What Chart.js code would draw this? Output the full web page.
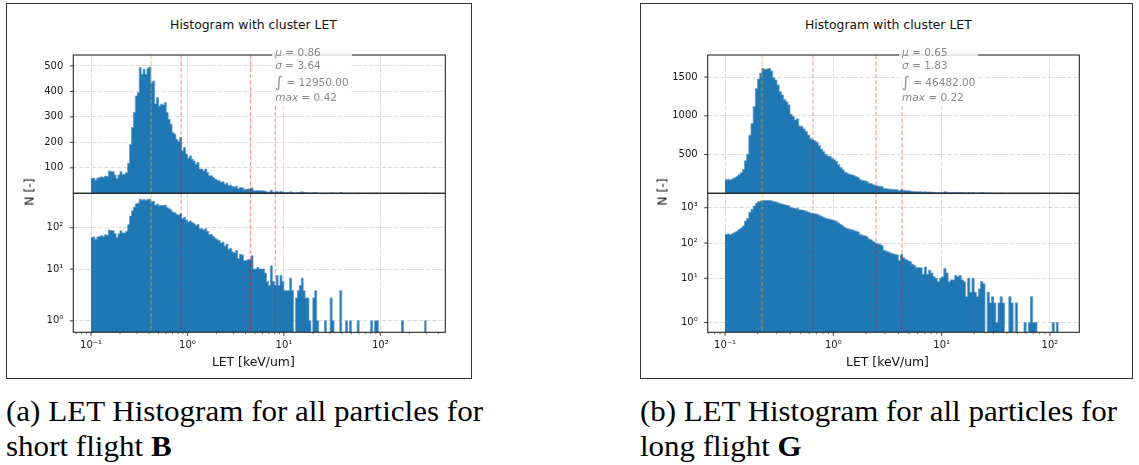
<!DOCTYPE html>
<html>
<head>
<meta charset="utf-8">
<script src="https://cdn.jsdelivr.net/npm/chart.js@4.4.1/dist/chart.umd.min.js"></script>
<style>
html,body{margin:0;padding:0;background:#fff;}
#root{position:relative;width:1139px;height:465px;overflow:hidden;background:#fff;font-family:"DejaVu Sans",sans-serif;}
.frame{position:absolute;border:1.5px solid #333;box-sizing:border-box;}
canvas{position:absolute;}
.title,.xlabel{position:absolute;font-size:12.4px;line-height:15px;color:#111;white-space:nowrap;transform:translateX(-50%);}
.ylabel{position:absolute;font-size:12.4px;line-height:15px;color:#111;white-space:nowrap;transform:translate(-50%,-50%) rotate(-90deg);}
.stats{position:absolute;background:rgba(255,255,255,0.8);color:#8a8a8a;font-size:10.5px;padding:0 3px 2px 3.3px;white-space:nowrap;z-index:5;}
.stats div{height:13px;line-height:13px;}
.stats div.int{height:19px;line-height:19px;}
.stats .big{font-size:15px;position:relative;top:1px;}
.caption{position:absolute;font-family:"Liberation Serif","DejaVu Serif",serif;font-size:29px;line-height:35px;color:#000;white-space:nowrap;transform-origin:0 0;}
</style>
</head>
<body>
<div id="root"></div>
<script>
// ---------------- data ----------------
const binLogStart = -1;     // first bin edge = 10^-1 keV/um
const binLogWidth = 0.02;   // bin width in decades
// counts per bin, short flight B
const countsShortFlightB = [
 58,60,52,60,62,65,62,68,66,88,
 86,85,72,58,72,85,75,75,82,118,
 192,258,317,382,395,493,467,487,467,490,
 496,435,441,352,376,343,350,347,356,317,
 291,271,239,232,212,203,219,167,180,154,
 138,147,134,127,114,121,95,95,88,95,
 82,69,69,62,56,52,49,43,45,36,
 40,30,32,26,25,28,18,23,22,16,
 16,17,17,21,10,10,11,10,10,10,
 8,5,4,12,5,4,7,4,7,5,
 3,3,3,6,3,0,2,3,4,6,
 3,2,2,1,0,2,3,1,0,0,
 0,1,0,0,2,1,0,0,0,3,
 0,0,1,0,1,0,0,0,1,0,
 0,0,0,0,0,1,0,1,1,0,
 0,0,0,0,0,0,0,0,0,0,
 0,1,0,0,0,0,0,0,0,0,
 0,0,0,1
];
// counts per bin, long flight G
const countsLongFlightG = [
 175,180,172,185,200,215,240,265,305,420,
 505,750,900,1120,1350,1475,1550,1612,1600,1605,
 1612,1577,1491,1461,1397,1311,1268,1212,1182,1140,
 1020,990,947,960,870,861,831,797,753,711,
 690,677,660,617,570,540,505,483,475,453,
 432,410,368,333,303,273,260,247,239,230,
 217,204,174,165,161,153,131,123,110,101,
 95,92,85,62,58,56,52,50,47,46,
 32,47,38,34,32,30,25,23,20,20,
 20,13,21,13,17,14,11,10,8,10,
 11,19,14,8,9,9,12,11,12,9,
 8,3,10,4,10,4,3,5,8,7,
 0,4,2,3,2,1,2,3,2,0,
 0,3,2,0,2,0,0,0,1,0,
 1,3,1,1,0,0,0,0,0,0,
 0,1,0,1
];
// stats: mu, sigma, integral, max
const statsShortFlightB = [0.86, 3.64, 12950.00, 0.42];
const statsLongFlightG  = [0.65, 1.83, 46482.00, 0.22];

const xMajorTicks  = [0.1, 1, 10, 100];
const xMajorLabels = ['10\u207B\u00B9', '10\u2070', '10\u00B9', '10\u00B2'];
const yLinTicksB = [100, 200, 300, 400, 500];
const yLinTicksG = [500, 1000, 1500];
const yLogTicksB = [1, 10, 100];
const yLogTicksG = [1, 10, 100, 1000];
const yLogLabels = ['10\u2070', '10\u00B9', '10\u00B2', '10\u00B3'];

const titleText  = 'Histogram with cluster LET';
const xLabelText = 'LET [keV/um]';
const yLabelText = 'N [-]';
const captionB = ['(a) LET Histogram for all particles for', 'short flight ', 'B'];
const captionG = ['(b) LET Histogram for all particles for', 'long flight ', 'G'];

// ---------------- symlog scale ----------------
const SYMLOG_LINTHRESH = 2;
const LinearScale = Chart.registry.getScale('linear');
class SymlogScale extends LinearScale {
  tf(v){ const t=SYMLOG_LINTHRESH, a=1/(1-1/10), x=Math.abs(v); return x<=t ? v*a : Math.sign(v)*t*(a+Math.log10(x/t)); }
  itf(u){ const t=SYMLOG_LINTHRESH, a=1/(1-1/10), x=Math.abs(u); return x<=t*a ? u/a : Math.sign(u)*t*Math.pow(10, x/t-a); }
  getPixelForValue(value){ const u0=this.tf(this.min), u1=this.tf(this.max); return this.getPixelForDecimal((this.tf(value)-u0)/(u1-u0)); }
  getValueForPixel(pixel){ const u0=this.tf(this.min), u1=this.tf(this.max); return this.itf(u0+this.getDecimalForPixel(pixel)*(u1-u0)); }
}
SymlogScale.id = 'symlog';
SymlogScale.defaults = {};
Chart.register(SymlogScale);

// ---------------- helpers ----------------
const GRID = 'rgba(176,176,176,0.55)';
const TICKFONT = {family:'DejaVu Sans', size:10};
const TICKCOLOR = '#1a1a1a';
const HISTFILL = '#1f77b4';
const HISTEDGE = '#5e9bcc';
const RED = 'rgba(255,0,0,0.42)';
const ORANGE = 'rgba(255,165,0,0.55)';

function histPoints(counts){
  const pts = counts.map((c,i)=>({x: Math.pow(10, binLogStart + i*binLogWidth), y: c}));
  pts.push({x: Math.pow(10, binLogStart + counts.length*binLogWidth), y: counts[counts.length-1]});
  return pts;
}
function xTickList(min, max){
  const out = [];
  for (let e=-3; e<=3; e++) for (let m=1; m<=9; m++){
    const v = Number((m*Math.pow(10,e)).toPrecision(6));
    if (v>=min && v<=max) out.push(v);
  }
  return out;
}
function decor(vlines, bottomAxis){
  return {
    id:'decor',
    afterDatasetsDraw(chart){
      const {ctx, chartArea:a} = chart; const xs = chart.scales.x;
      ctx.save();
      ctx.beginPath(); ctx.rect(a.left, a.top, a.right-a.left, a.bottom-a.top); ctx.clip();
      ctx.lineWidth = 1.1; ctx.setLineDash([4.4, 1.9]);
      vlines.forEach(l=>{ const p = xs.getPixelForValue(l.value); ctx.strokeStyle=l.color; ctx.beginPath(); ctx.moveTo(p,a.top); ctx.lineTo(p,a.bottom); ctx.stroke(); });
      ctx.restore();
    },
    afterDraw(chart){
      const {ctx, chartArea:a} = chart; const xs = chart.scales.x, ys = chart.scales.y;
      ctx.save(); ctx.setLineDash([]);
      ctx.strokeStyle = '#262626'; ctx.lineWidth = 1.1;
      ctx.strokeRect(a.left, a.top, a.right-a.left, a.bottom-a.top);
      ctx.lineWidth = 0.9;
      ys.ticks.forEach(t=>{ const p = ys.getPixelForValue(t.value); ctx.beginPath(); ctx.moveTo(a.left-3.5,p); ctx.lineTo(a.left,p); ctx.stroke(); });
      if (bottomAxis) xs.ticks.forEach(t=>{
        const p = xs.getPixelForValue(t.value); const major = xMajorTicks.includes(t.value);
        ctx.lineWidth = major ? 0.9 : 0.6; ctx.beginPath(); ctx.moveTo(p,a.bottom); ctx.lineTo(p,a.bottom+(major?3.5:2)); ctx.stroke();
      });
      ctx.restore();
    }
  };
}
function zeroPad(s){ s.paddingLeft=0; s.paddingRight=0; s.paddingTop=0; s.paddingBottom=0; }

// ---------------- layout ----------------
const PLOT_TOP = 55, PLOT_MID = 193.3, PLOT_BOT = 332.3;
const panels = [
  {counts:countsShortFlightB, stats:statsShortFlightB, caption:captionB,
   xMin:0.0655, xMax:472, yLinMax:543, yLinTicks:yLinTicksB, yLogMin:0.5, yLogMax:686, yLogTicks:yLogTicksB,
   frame:[6,3,472,379], plotL:73.3, plotR:445.3, titleX:253.5, xlabelX:253.3, ylabelX:29, captionX:6},
  {counts:countsLongFlightG, stats:statsLongFlightG, caption:captionG,
   xMin:0.0692, xMax:186.5, yLinMax:1785, yLinTicks:yLinTicksG, yLogMin:0.5, yLogMax:2571, yLogTicks:yLogTicksG,
   frame:[640,3,1133,379], plotL:707.7, plotR:1079.3, titleX:888.3, xlabelX:887.5, ylabelX:662, captionX:640}
];

const root = document.getElementById('root');
function el(tag, cls, style, html){ const e=document.createElement(tag); if(cls) e.className=cls; if(style) Object.assign(e.style, style); if(html!==undefined) e.innerHTML=html; root.appendChild(e); return e; }

panels.forEach((P, idx)=>{
  const [fx0, fy0, fx1, fy1] = P.frame;
  el('div','frame',{left:fx0+'px', top:fy0+'px', width:(fx1-fx0)+'px', height:(fy1-fy0)+'px'});

  const cLeft = fx0 + 4, cWidth = Math.ceil(P.plotR + 12 - cLeft);
  const yAxisW = P.plotL - cLeft, padRight = cLeft + cWidth - P.plotR;
  const xTicks = xTickList(P.xMin, P.xMax);
  const [mu, sigma, integral, mx] = P.stats;
  const vlines = [{value:mx, color:ORANGE}, {value:mu, color:RED}, {value:mu+sigma, color:RED}, {value:mu+2*sigma, color:RED}];

  function makeChart(isTop){
    const cTop = isTop ? 40 : 192, cH = isTop ? 154 : 180;
    const cv = el('canvas', null, {left:cLeft+'px', top:cTop+'px'});
    cv.width = cWidth; cv.height = cH;
    const yTicks = isTop ? P.yLinTicks : P.yLogTicks;
    const xAxisH = isTop ? 0 : (cTop + cH - PLOT_BOT);
    return new Chart(cv, {
      type:'line',
      data:{datasets:[{data:histPoints(P.counts), stepped:true, fill:'start', backgroundColor:HISTFILL,
        borderColor:HISTEDGE, borderWidth:0.8, pointRadius:0, tension:0}]},
      options:{
        responsive:false, animation:false, devicePixelRatio:1, events:[],
        layout:{padding:{left:0, right:padRight, top: isTop ? PLOT_TOP-cTop : PLOT_MID-cTop, bottom: isTop ? (cTop+cH-PLOT_MID) : 0}},
        plugins:{legend:{display:false}, tooltip:{enabled:false}, title:{display:false}},
        scales:{
          x:{type:'logarithmic', min:P.xMin, max:P.xMax, bounds:'data',
             border:{display:false, dash:[4.4,1.9]},
             grid:{drawTicks:false, lineWidth:0.8, color:(c)=> (c.tick && xMajorTicks.includes(c.tick.value)) ? GRID : 'rgba(0,0,0,0)'},
             ticks:{display:!isTop, autoSkip:false, maxRotation:0, minRotation:0, padding:7, font:TICKFONT, color:TICKCOLOR,
                    callback:(v)=>{ const k=xMajorTicks.indexOf(v); return k>=0 ? xMajorLabels[k] : ''; }},
             afterBuildTicks:(s)=>{ s.ticks = xTicks.map(v=>({value:v, major:xMajorTicks.includes(v)})); },
             afterFit:(s)=>{ s.height = xAxisH; zeroPad(s); }},
          y:{type: isTop ? 'linear' : 'symlog', min: isTop ? 0 : P.yLogMin, max: isTop ? P.yLinMax : P.yLogMax, bounds:'data',
             border:{display:false, dash:[4.4,1.9]},
             grid:{drawTicks:false, lineWidth:0.8, color:GRID},
             ticks:{padding:10, font:TICKFONT, color:TICKCOLOR, autoSkip:false,
                    callback:(v)=> isTop ? String(v) : yLogLabels[P.yLogTicks.indexOf(v)]},
             afterBuildTicks:(s)=>{ s.ticks = yTicks.map(v=>({value:v})); },
             afterFit:(s)=>{ s.width = yAxisW; zeroPad(s); }}
        }
      },
      plugins:[decor(vlines, !isTop)]
    });
  }
  const topChart = makeChart(true);
  makeChart(false);

  // texts
  el('div','title',{left:P.titleX+'px', top:'16.5px'}, titleText);
  el('div','xlabel',{left:P.xlabelX+'px', top:'354px'}, xLabelText);
  el('div','ylabel',{left:P.ylabelX+'px', top:'192px'}, yLabelText);

  // stats box anchored at mu+2sigma line
  const anchorX = cLeft + topChart.scales.x.getPixelForValue(mu + 2*sigma);
  el('div','stats',{left:(anchorX-3.3)+'px', top:'46px'},
    '<div><i>\u03BC</i> = '+mu.toFixed(2)+'</div>'+
    '<div><i>\u03C3</i> = '+sigma.toFixed(2)+'</div>'+
    '<div class="int"><span class="big">\u222B</span> = '+integral.toFixed(2)+'</div>'+
    '<div><i>max</i> = '+mx.toFixed(2)+'</div>');

  // caption
  const cap = el('div','caption',{left:P.captionX+'px', top:'393.7px'},
    P.caption[0]+'<br>'+P.caption[1]+'<b>'+P.caption[2]+'</b>');
  const firstLine = document.createElement('span'); firstLine.textContent = P.caption[0];
  firstLine.style.cssText = 'position:absolute;visibility:hidden;white-space:nowrap;font-family:"Liberation Serif","DejaVu Serif",serif;font-size:29px;';
  root.appendChild(firstLine);
  const w = firstLine.getBoundingClientRect().width; root.removeChild(firstLine);
  cap.style.transform = 'scaleX(' + (477 / w) + ')';
});
</script>
</body>
</html>
